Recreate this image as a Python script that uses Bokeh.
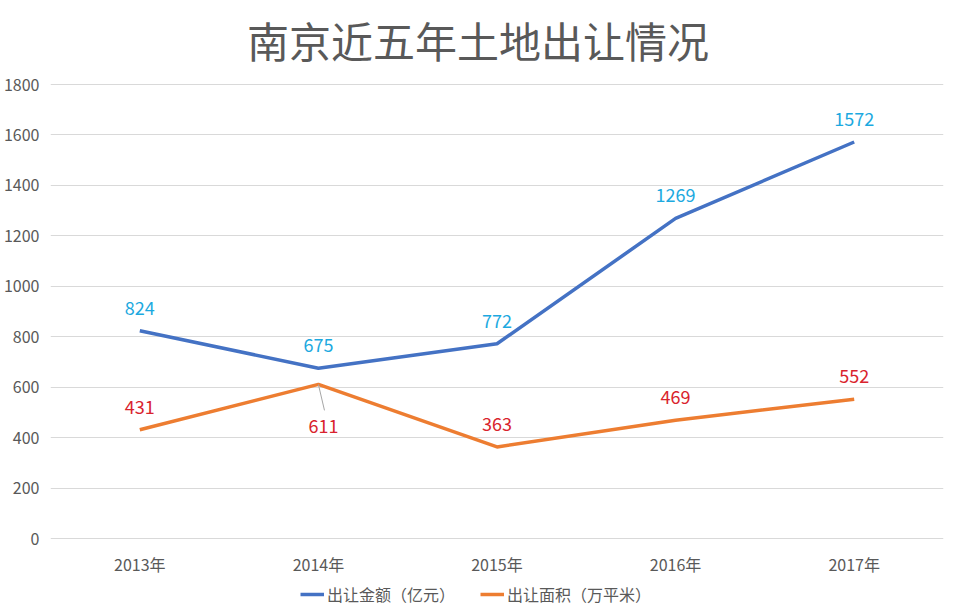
from bokeh.plotting import figure
from bokeh.models import (Range1d, FixedTicker, ColumnDataSource, LabelSet, Label, Legend, LegendItem)
from bokeh.core.properties import value
from bokeh.embed import file_html
from bokeh.resources import INLINE

title = "南京近五年土地出让情况"
years = ["2013年", "2014年", "2015年", "2016年", "2017年"]
amount = [824, 675, 772, 1269, 1572]      # 出让金额（亿元）
area = [431, 611, 363, 469, 552]          # 出让面积（万平米）
y_ticks = [0, 200, 400, 600, 800, 1000, 1200, 1400, 1600, 1800]

FONT = "Noto Sans CJK SC"
GREY = "#595959"

xs = [i + 0.5 for i in range(len(years))]

# frame spans the full figure height; the region above 1800 hosts the title,
# the region below 0 hosts the category labels and the legend
H = 608
top_px, zero_px = 84, 538
upp = (y_ticks[-1] - y_ticks[0]) / (zero_px - top_px)
y_lo = -(H - zero_px) * upp
y_hi = y_ticks[-1] + top_px * upp

p = figure(width=944, height=H, output_backend="svg", toolbar_location=None,
           x_range=Range1d(0, len(years)), y_range=Range1d(y_lo, y_hi),
           min_border_left=45, min_border_right=1, min_border_top=0, min_border_bottom=0)

p.outline_line_color = None
p.xgrid.grid_line_color = None
p.ygrid.grid_line_color = "#D9D9D9"
p.ygrid.grid_line_width = 1
p.xaxis.visible = False

p.yaxis.ticker = FixedTicker(ticks=y_ticks)
p.yaxis.axis_line_color = None
p.yaxis.major_tick_line_color = None
p.yaxis.minor_tick_line_color = None
p.yaxis.major_label_text_font = FONT
p.yaxis.major_label_text_font_size = "16px"
p.yaxis.major_label_text_color = GREY
p.yaxis.major_label_standoff = 5

p.add_layout(Label(x=len(years) / 2, y=y_ticks[-1], x_offset=-19, y_offset=45, text=title,
                   text_align="center", text_baseline="middle",
                   text_font=FONT, text_font_size="42px", text_color=GREY))

src = ColumnDataSource(dict(x=xs, amount=amount, area=area, zero=[0] * len(xs), years=years,
                            amount_txt=[str(v) for v in amount]))

r1 = p.line("x", "amount", source=src, line_color="#4472C4", line_width=3.5)
r2 = p.line("x", "area", source=src, line_color="#ED7D31", line_width=3.5)

# category labels under the zero line
cat_labels = LabelSet(x="x", y="zero", text="years", source=src,
                      text_align="center", text_baseline="middle", y_offset=-25,
                      text_font=value(FONT), text_font_size="16px", text_color=GREY)
p.add_layout(cat_labels)

# leader line for 2014 area label (label placed below the point)
i14 = 1
p.segment(x0=[xs[i14]], y0=[area[i14]], x1=[xs[i14] + 0.034], y1=[area[i14] - 103],
          line_color="#A6A6A6", line_width=1)

lab1 = LabelSet(x="x", y="amount", text="amount_txt", source=src,
                text_align="center", text_baseline="middle", y_offset=23,
                text_font=value(FONT), text_font_size="18px", text_color="#1CA9E0")
p.add_layout(lab1)

above_idx = [0, 2, 3, 4]
src2 = ColumnDataSource(dict(x=[xs[i] for i in above_idx], y=[area[i] for i in above_idx],
                             t=[str(area[i]) for i in above_idx]))
lab2 = LabelSet(x="x", y="y", text="t", source=src2,
                text_align="center", text_baseline="middle", y_offset=23,
                text_font=value(FONT), text_font_size="18px", text_color="#D9232D")
p.add_layout(lab2)
src3 = ColumnDataSource(dict(x=[xs[i14]], y=[area[i14]], t=[str(area[i14])]))
lab3 = LabelSet(x="x", y="y", text="t", source=src3,
                text_align="center", text_baseline="middle", x_offset=5, y_offset=-42,
                text_font=value(FONT), text_font_size="18px", text_color="#D9232D")
p.add_layout(lab3)

legend = Legend(items=[LegendItem(label="出让金额（亿元）", renderers=[r1]),
                       LegendItem(label="出让面积（万平米）", renderers=[r2])],
                orientation="horizontal", location=(250, 2),
                label_text_font=FONT, label_text_font_size="16px", label_text_color=GREY,
                glyph_width=24, glyph_height=14, label_standoff=3, spacing=25,
                padding=2, margin=0, border_line_color=None, background_fill_alpha=0)
p.add_layout(legend)

open("out.html", "w").write(file_html(p, INLINE))
